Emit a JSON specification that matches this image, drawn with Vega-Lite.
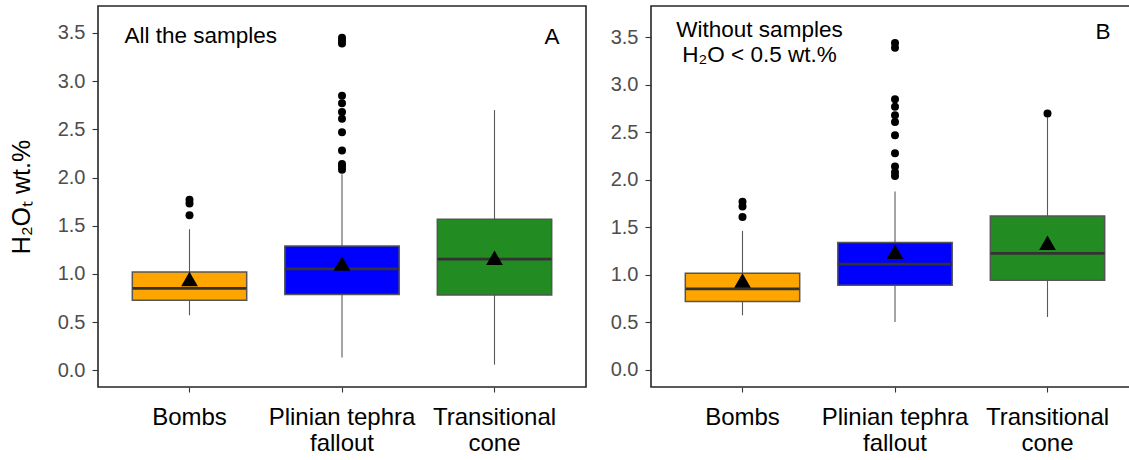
{
  "$schema": "https://vega.github.io/schema/vega-lite/v6.json",
  "padding": {"left": 8, "top": 5, "right": 0, "bottom": 0},
  "spacing": 22,
  "background": "white",
  "config": {
    "font": "Liberation Sans",
    "view": {"stroke": "#262626", "strokeWidth": 1.6},
    "axis": {"grid": false, "domain": false, "tickColor": "#333333", "tickWidth": 1.1},
    "axisY": {"tickSize": 6, "labelColor": "#4d4d4d", "labelFontSize": 20, "labelPadding": 7, "titleFontSize": 25, "titleFontWeight": "normal", "titleColor": "black", "titlePadding": 23},
    "axisX": {"tickSize": 5, "labelColor": "black", "labelFontSize": 24, "labelPadding": 13, "labelAngle": 0, "labelLineHeight": 26.5}
  },
  "datasets": {
    "boxes": [
      {"panel": "A", "cat": "Bombs", "lower": 0.571, "q1": 0.727, "median": 0.851, "q3": 1.021, "upper": 1.464, "mean": 0.947},
      {"panel": "A", "cat": "Plinian tephra fallout", "lower": 0.132, "q1": 0.786, "median": 1.052, "q3": 1.291, "upper": 2.035, "mean": 1.108},
      {"panel": "A", "cat": "Transitional cone", "lower": 0.059, "q1": 0.782, "median": 1.153, "q3": 1.568, "upper": 2.70, "mean": 1.168},
      {"panel": "B", "cat": "Bombs", "lower": 0.576, "q1": 0.72, "median": 0.853, "q3": 1.018, "upper": 1.463, "mean": 0.942},
      {"panel": "B", "cat": "Plinian tephra fallout", "lower": 0.505, "q1": 0.892, "median": 1.113, "q3": 1.341, "upper": 1.878, "mean": 1.244},
      {"panel": "B", "cat": "Transitional cone", "lower": 0.558, "q1": 0.944, "median": 1.228, "q3": 1.621, "upper": 2.66, "mean": 1.339}
    ],
    "outliers": [
      {"panel": "A", "cat": "Bombs", "value": 1.77},
      {"panel": "A", "cat": "Bombs", "value": 1.73},
      {"panel": "A", "cat": "Bombs", "value": 1.61},
      {"panel": "A", "cat": "Plinian tephra fallout", "value": 3.45},
      {"panel": "A", "cat": "Plinian tephra fallout", "value": 3.42},
      {"panel": "A", "cat": "Plinian tephra fallout", "value": 3.39},
      {"panel": "A", "cat": "Plinian tephra fallout", "value": 2.85},
      {"panel": "A", "cat": "Plinian tephra fallout", "value": 2.77},
      {"panel": "A", "cat": "Plinian tephra fallout", "value": 2.68},
      {"panel": "A", "cat": "Plinian tephra fallout", "value": 2.61},
      {"panel": "A", "cat": "Plinian tephra fallout", "value": 2.47},
      {"panel": "A", "cat": "Plinian tephra fallout", "value": 2.28},
      {"panel": "A", "cat": "Plinian tephra fallout", "value": 2.14},
      {"panel": "A", "cat": "Plinian tephra fallout", "value": 2.11},
      {"panel": "A", "cat": "Plinian tephra fallout", "value": 2.08},
      {"panel": "B", "cat": "Bombs", "value": 1.77},
      {"panel": "B", "cat": "Bombs", "value": 1.72},
      {"panel": "B", "cat": "Bombs", "value": 1.61},
      {"panel": "B", "cat": "Plinian tephra fallout", "value": 3.44},
      {"panel": "B", "cat": "Plinian tephra fallout", "value": 3.39},
      {"panel": "B", "cat": "Plinian tephra fallout", "value": 2.85},
      {"panel": "B", "cat": "Plinian tephra fallout", "value": 2.77},
      {"panel": "B", "cat": "Plinian tephra fallout", "value": 2.68},
      {"panel": "B", "cat": "Plinian tephra fallout", "value": 2.61},
      {"panel": "B", "cat": "Plinian tephra fallout", "value": 2.47},
      {"panel": "B", "cat": "Plinian tephra fallout", "value": 2.28},
      {"panel": "B", "cat": "Plinian tephra fallout", "value": 2.14},
      {"panel": "B", "cat": "Plinian tephra fallout", "value": 2.08},
      {"panel": "B", "cat": "Plinian tephra fallout", "value": 2.04},
      {"panel": "B", "cat": "Transitional cone", "value": 2.70}
    ],
    "notes": [
      {"panel": "A", "kind": "left", "cat": "Bombs", "y": 3.399, "text": "All the samples"},
      {"panel": "A", "kind": "right", "cat": "Transitional cone", "y": 3.39, "text": "A"},
      {"panel": "B", "kind": "center", "cat": "Bombs", "y": 3.499, "text": "Without samples"},
      {"panel": "B", "kind": "center", "cat": "Bombs", "y": 3.242, "text": "H₂O < 0.5 wt.%"},
      {"panel": "B", "kind": "right", "cat": "Transitional cone", "y": 3.48, "text": "B"}
    ]
  },
  "hconcat": [
    {
      "width": 488,
      "height": 381,
      "encoding": {
        "x": {
          "field": "cat", "type": "nominal",
          "scale": {"domain": ["Bombs", "Plinian tephra fallout", "Transitional cone"], "paddingInner": 0, "paddingOuter": 0.1},
          "axis": {"title": null, "labelExpr": "datum.value == 'Plinian tephra fallout' ? ['Plinian tephra', 'fallout'] : datum.value == 'Transitional cone' ? ['Transitional', 'cone'] : datum.value"}
        }
      },
      "layer": [
        {
          "data": {"name": "boxes"},
          "transform": [{"filter": "datum.panel == 'A'"}],
          "mark": {"type": "rule", "color": "#595959", "strokeWidth": 1.1},
          "encoding": {
            "y": {"field": "lower", "type": "quantitative", "scale": {"domain": [-0.173, 3.78], "nice": false, "zero": false}, "axis": {"values": [0, 0.5, 1, 1.5, 2, 2.5, 3, 3.5], "format": ".1f", "title": "H₂Oₜ wt.%"}},
            "y2": {"field": "upper"}
          }
        },
        {
          "data": {"name": "boxes"},
          "transform": [{"filter": "datum.panel == 'A'"}],
          "mark": {"type": "bar", "width": {"band": 0.75}, "stroke": "#555555", "strokeWidth": 1.5},
          "encoding": {
            "y": {"field": "q1", "type": "quantitative", "title": "H₂Oₜ wt.%"},
            "y2": {"field": "q3"},
            "color": {"field": "cat", "type": "nominal", "scale": {"domain": ["Bombs", "Plinian tephra fallout", "Transitional cone"], "range": ["#FFA500", "#0000FF", "#228B22"]}, "legend": null}
          }
        },
        {
          "data": {"name": "boxes"},
          "transform": [{"filter": "datum.panel == 'A'"}],
          "mark": {"type": "tick", "size": 114, "thickness": 2.8, "color": "#333333", "opacity": 1},
          "encoding": {"y": {"field": "median", "type": "quantitative", "title": "H₂Oₜ wt.%"}}
        },
        {
          "data": {"name": "outliers"},
          "transform": [{"filter": "datum.panel == 'A'"}],
          "mark": {"type": "point", "shape": "circle", "filled": true, "color": "black", "opacity": 1, "size": 64},
          "encoding": {"y": {"field": "value", "type": "quantitative", "title": "H₂Oₜ wt.%"}}
        },
        {
          "data": {"name": "boxes"},
          "transform": [{"filter": "datum.panel == 'A'"}],
          "mark": {"type": "point", "shape": "triangle-up", "filled": true, "color": "black", "opacity": 1, "size": 280},
          "encoding": {"y": {"field": "mean", "type": "quantitative", "title": "H₂Oₜ wt.%"}}
        },
        {
          "data": {"name": "notes"},
          "transform": [{"filter": "datum.panel == 'A' && datum.kind == 'left'"}],
          "mark": {"type": "text", "align": "left", "baseline": "alphabetic", "dx": -65, "fontSize": 22.5, "color": "black"},
          "encoding": {"y": {"field": "y", "type": "quantitative", "title": "H₂Oₜ wt.%"}, "text": {"field": "text"}}
        },
        {
          "data": {"name": "notes"},
          "transform": [{"filter": "datum.panel == 'A' && datum.kind == 'right'"}],
          "mark": {"type": "text", "align": "right", "baseline": "alphabetic", "dx": 65, "fontSize": 22.5, "color": "black"},
          "encoding": {"y": {"field": "y", "type": "quantitative", "title": "H₂Oₜ wt.%"}, "text": {"field": "text"}}
        }
      ]
    },
    {
      "width": 488,
      "height": 381,
      "encoding": {
        "x": {
          "field": "cat", "type": "nominal",
          "scale": {"domain": ["Bombs", "Plinian tephra fallout", "Transitional cone"], "paddingInner": 0, "paddingOuter": 0.1},
          "axis": {"title": null, "labelExpr": "datum.value == 'Plinian tephra fallout' ? ['Plinian tephra', 'fallout'] : datum.value == 'Transitional cone' ? ['Transitional', 'cone'] : datum.value"}
        }
      },
      "layer": [
        {
          "data": {"name": "boxes"},
          "transform": [{"filter": "datum.panel == 'B'"}],
          "mark": {"type": "rule", "color": "#595959", "strokeWidth": 1.1},
          "encoding": {
            "y": {"field": "lower", "type": "quantitative", "scale": {"domain": [-0.179, 3.83], "nice": false, "zero": false}, "axis": {"values": [0, 0.5, 1, 1.5, 2, 2.5, 3, 3.5], "format": ".1f", "title": null}},
            "y2": {"field": "upper"}
          }
        },
        {
          "data": {"name": "boxes"},
          "transform": [{"filter": "datum.panel == 'B'"}],
          "mark": {"type": "bar", "width": {"band": 0.75}, "stroke": "#555555", "strokeWidth": 1.5},
          "encoding": {
            "y": {"field": "q1", "type": "quantitative", "title": null},
            "y2": {"field": "q3"},
            "color": {"field": "cat", "type": "nominal", "scale": {"domain": ["Bombs", "Plinian tephra fallout", "Transitional cone"], "range": ["#FFA500", "#0000FF", "#228B22"]}, "legend": null}
          }
        },
        {
          "data": {"name": "boxes"},
          "transform": [{"filter": "datum.panel == 'B'"}],
          "mark": {"type": "tick", "size": 114, "thickness": 2.8, "color": "#333333", "opacity": 1},
          "encoding": {"y": {"field": "median", "type": "quantitative", "title": null}}
        },
        {
          "data": {"name": "outliers"},
          "transform": [{"filter": "datum.panel == 'B'"}],
          "mark": {"type": "point", "shape": "circle", "filled": true, "color": "black", "opacity": 1, "size": 64},
          "encoding": {"y": {"field": "value", "type": "quantitative", "title": null}}
        },
        {
          "data": {"name": "boxes"},
          "transform": [{"filter": "datum.panel == 'B'"}],
          "mark": {"type": "point", "shape": "triangle-up", "filled": true, "color": "black", "opacity": 1, "size": 280},
          "encoding": {"y": {"field": "mean", "type": "quantitative", "title": null}}
        },
        {
          "data": {"name": "notes"},
          "transform": [{"filter": "datum.panel == 'B' && datum.kind == 'center'"}],
          "mark": {"type": "text", "align": "center", "baseline": "alphabetic", "dx": 17, "fontSize": 22.5, "color": "black"},
          "encoding": {"y": {"field": "y", "type": "quantitative", "title": null}, "text": {"field": "text"}}
        },
        {
          "data": {"name": "notes"},
          "transform": [{"filter": "datum.panel == 'B' && datum.kind == 'right'"}],
          "mark": {"type": "text", "align": "right", "baseline": "alphabetic", "dx": 63, "fontSize": 22.5, "color": "black"},
          "encoding": {"y": {"field": "y", "type": "quantitative", "title": null}, "text": {"field": "text"}}
        }
      ]
    }
  ]
}
